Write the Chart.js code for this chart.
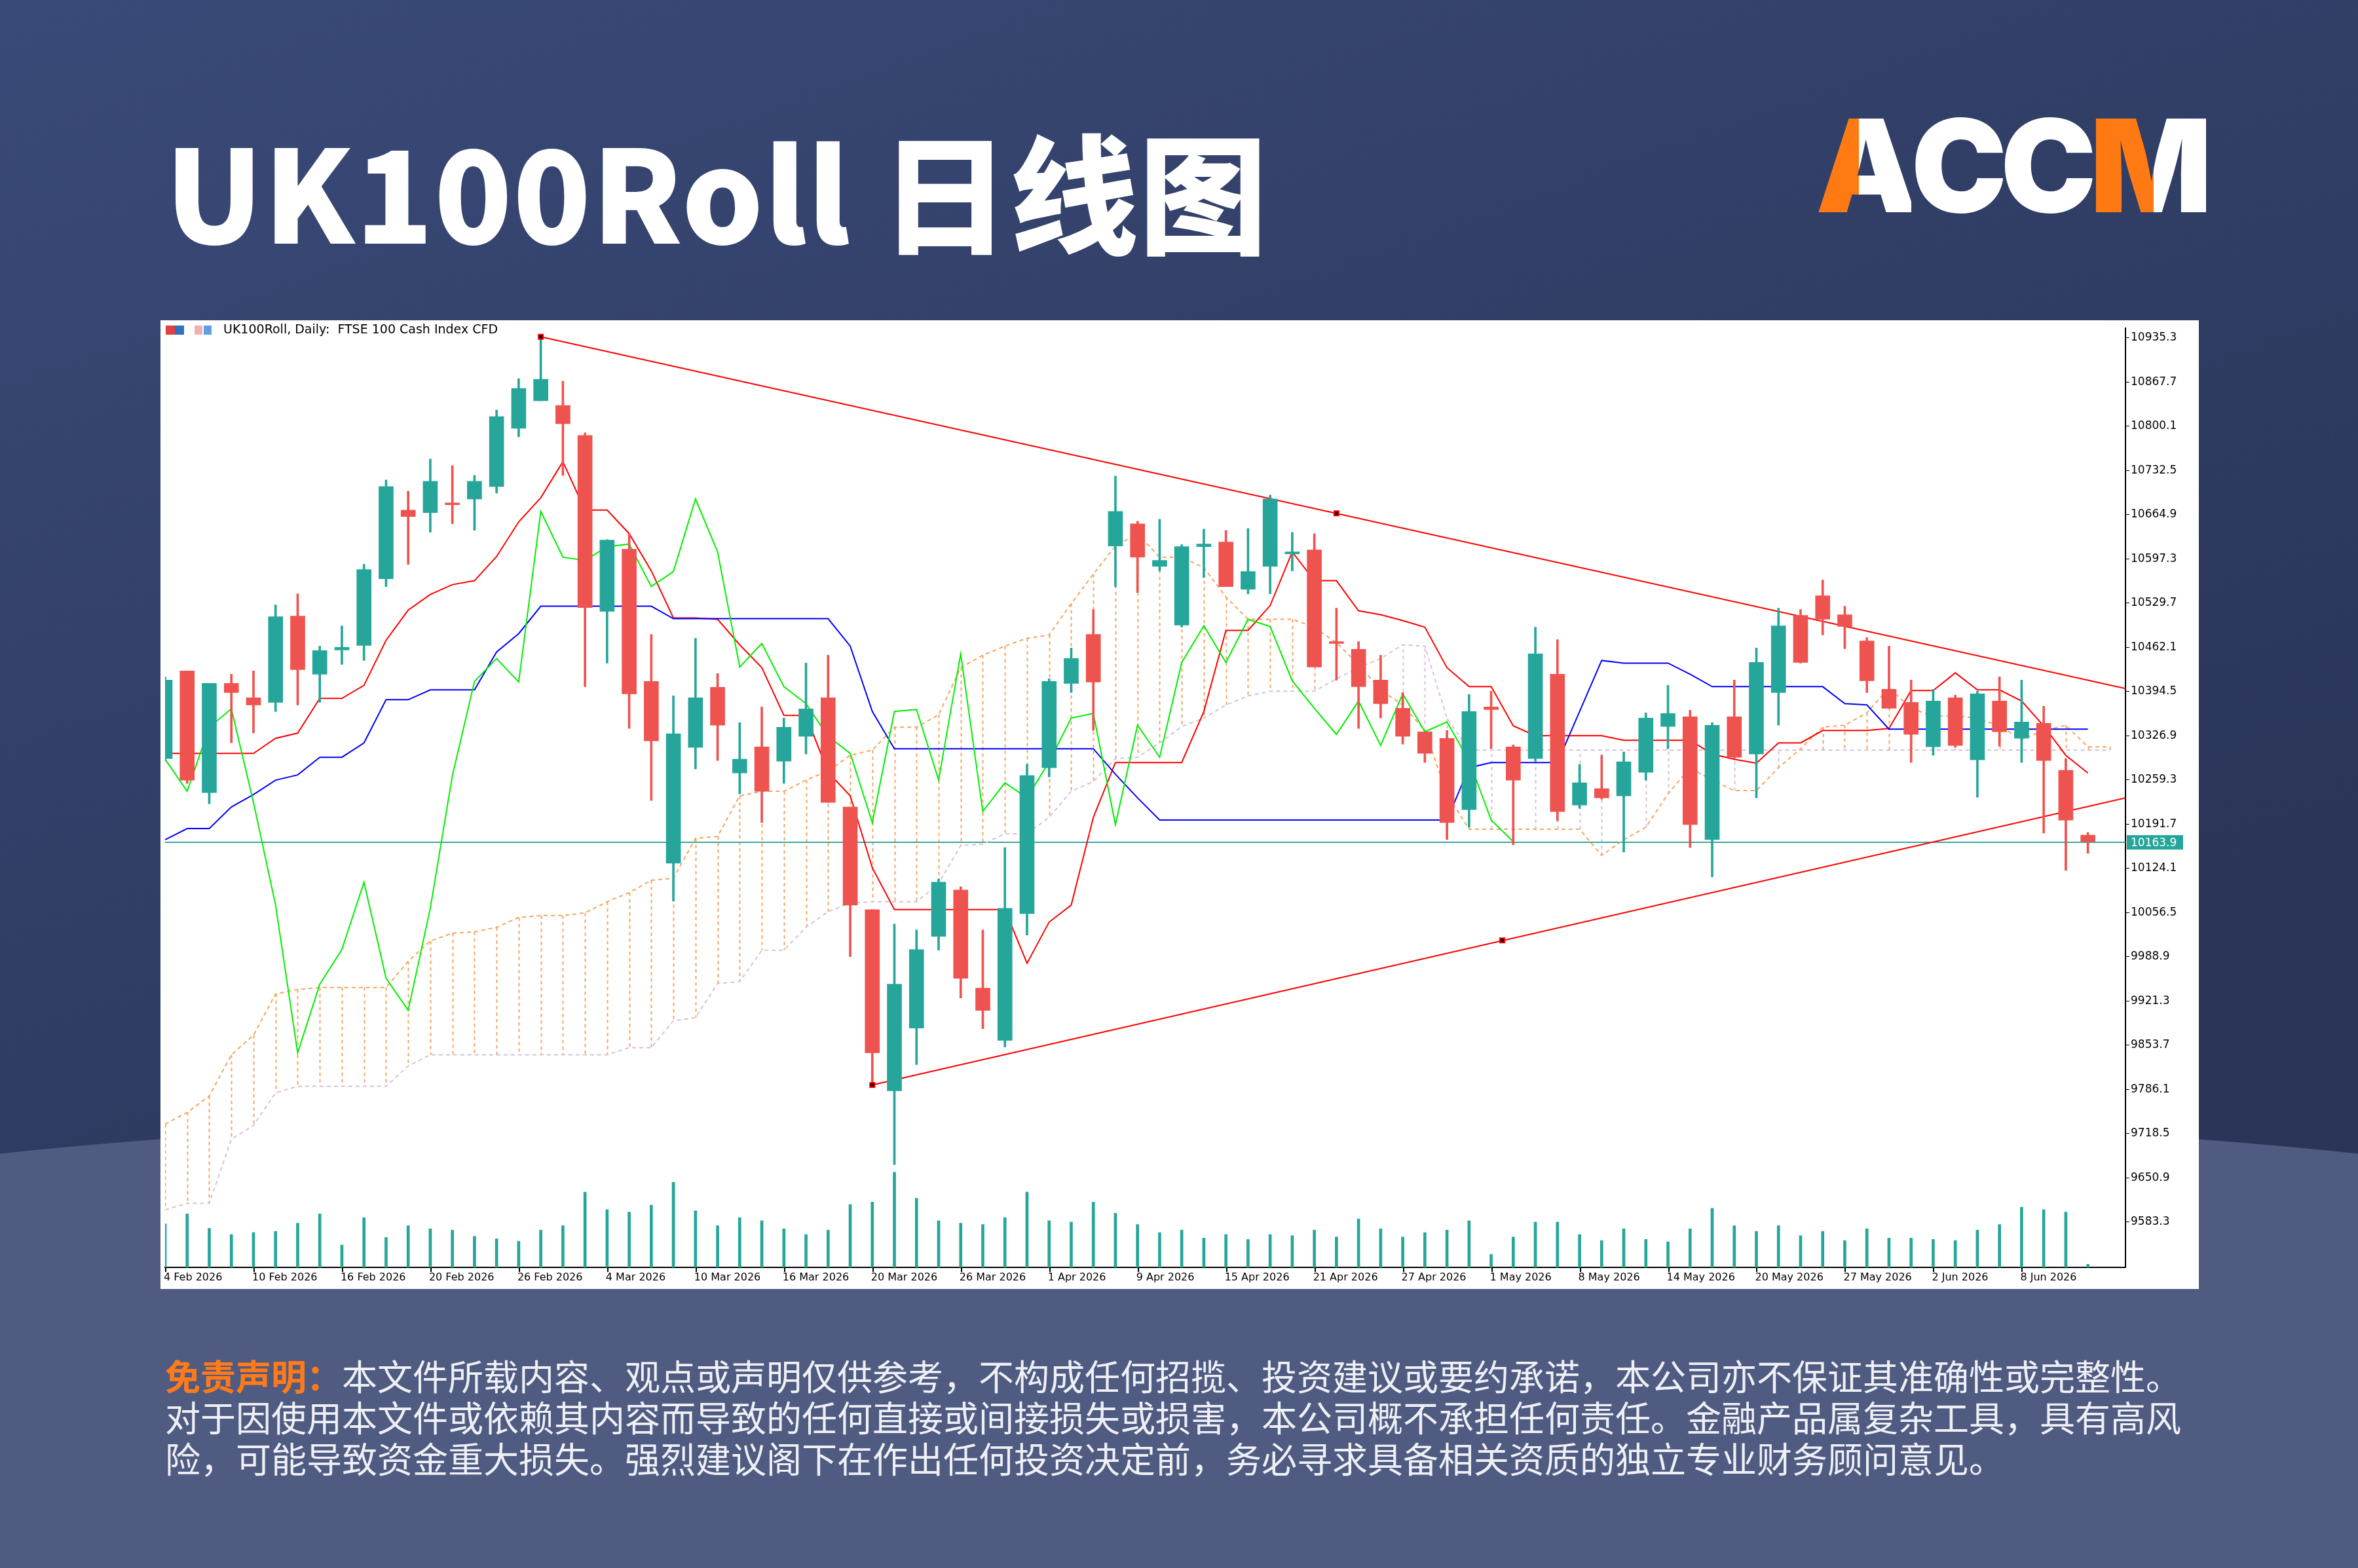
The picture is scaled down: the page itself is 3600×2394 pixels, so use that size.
<!DOCTYPE html>
<html><head><meta charset="utf-8">
<script src="https://cdn.jsdelivr.net/npm/chart.js@4.4.1/dist/chart.umd.min.js"></script>
<style>
html,body{margin:0;padding:0;}
body{width:3600px;height:2394px;position:relative;overflow:hidden;
background:linear-gradient(160deg,#3a4a78 0%,#2f3c63 45%,#2a3557 70%);}
#lower{position:absolute;left:-400px;top:1690px;width:4400px;height:1400px;border-radius:50% 50% 0 0/ 12% 12% 0 0;background:#4f5b80;}
#title{position:absolute;left:252px;top:172px;font-family:"Noto Sans CJK SC";font-weight:900;font-size:196px;line-height:230px;color:#fff;white-space:nowrap;letter-spacing:1px;}
#logo{position:absolute;left:2772px;top:138px;font-family:"Inter","Noto Sans";font-weight:900;font-size:196px;line-height:230px;letter-spacing:-10px;white-space:nowrap;}
#logo span{display:inline-block;color:#fff}
#logo .a{background:linear-gradient(90deg,#ff7a12 0 45%,#fff 45% 100%);-webkit-background-clip:text;background-clip:text;color:transparent}
#logo .m{background:linear-gradient(90deg,#ff7a12 0 55%,#fff 55% 100%);-webkit-background-clip:text;background-clip:text;color:transparent}
#panel{position:absolute;left:245px;top:489px;width:3112px;height:1479px;background:#fff;}
#disc{position:absolute;left:252px;top:2068px;font-family:"Noto Sans CJK SC";font-size:54px;line-height:63px;color:#eef0f6;white-space:nowrap;}
#disc b{color:#ff7a1a;font-weight:700}
</style></head><body>
<div id="lower"></div>
<div id="title">UK100Roll 日线图</div>
<div id="logo"><span class="a">A</span><span>CC</span><span class="m">M</span></div>
<div id="panel"><canvas id="c" width="3112" height="1479"></canvas></div>
<div id="disc"><b>免责声明：</b>本文件所载内容、观点或声明仅供参考，不构成任何招揽、投资建议或要约承诺，本公司亦不保证其准确性或完整性。<br>对于因使用本文件或依赖其内容而导致的任何直接或间接损失或损害，本公司概不承担任何责任。金融产品属复杂工具，具有高风<br>险，可能导致资金重大损失。强烈建议阁下在作出任何投资决定前，务必寻求具备相关资质的独立专业财务顾问意见。</div>
<script>
const dateLabels=["4 Feb 2026","10 Feb 2026","16 Feb 2026","20 Feb 2026","26 Feb 2026","4 Mar 2026","10 Mar 2026","16 Mar 2026","20 Mar 2026","26 Mar 2026","1 Apr 2026","9 Apr 2026","15 Apr 2026","21 Apr 2026","27 Apr 2026","1 May 2026","8 May 2026","14 May 2026","20 May 2026","27 May 2026","2 Jun 2026","8 Jun 2026"];
const yTicks=[10935.3,10867.7,10800.1,10732.5,10664.9,10597.3,10529.7,10462.1,10394.5,10326.9,10259.3,10191.7,10124.1,10056.5,9988.9,9921.3,9853.7,9786.1,9718.5,9650.9,9583.3];
const opens=[10292,10426,10240,10407,10385,10378,10510,10421,10458,10465,10567,10672,10668,10683,10689,10708,10797,10839,10832,10786,10517,10612,10410,10132,10309,10401,10270,10310,10288,10326,10385,10218,10061,9784,9880,10020,10091,9941,9861,10055,10278,10407,10482,10617,10651,10586,10496,10616,10623,10551,10586,10605,10611,10471,10459,10412,10369,10333,10323,10214,10371,10310,10292,10421,10221,10246,10235,10271,10341,10356,10168,10356,10299,10393,10511,10541,10512,10472,10398,10378,10310,10385,10290,10380,10323,10346,10274,10175];
const highs=[10417,10426,10407,10421,10426,10527,10544,10464,10495,10589,10718,10701,10750,10740,10725,10825,10873,10937,10869,10790,10627,10636,10482,10388,10476,10422,10347,10371,10354,10438,10450,10218,10061,10039,10030,10108,10096,10030,10156,10283,10414,10461,10520,10724,10655,10658,10619,10643,10641,10644,10695,10638,10636,10522,10471,10450,10393,10326,10335,10390,10395,10313,10493,10474,10283,10297,10302,10362,10404,10366,10347,10412,10461,10522,10520,10565,10525,10477,10464,10412,10398,10389,10395,10417,10412,10372,10292,10179];
const lows=[10288,10254,10223,10316,10331,10364,10374,10378,10436,10442,10555,10589,10638,10651,10641,10698,10784,10839,10725,10402,10438,10338,10228,10074,10276,10289,10238,10194,10254,10299,10225,9989,9793,9671,9824,9999,9926,9879,9851,10022,10264,10393,10335,10555,10546,10579,10493,10569,10555,10544,10544,10579,10432,10412,10338,10354,10314,10286,10168,10187,10307,10160,10288,10197,10216,10230,10149,10259,10307,10156,10111,10292,10232,10343,10438,10481,10460,10393,10369,10286,10297,10309,10233,10311,10286,10178,10121,10147];
const closes=[10412,10259,10407,10393,10374,10509,10428,10457,10462,10581,10708,10662,10716,10680,10716,10815,10858,10872,10804,10523,10626,10391,10319,10330,10385,10343,10291,10242,10340,10368,10225,10068,9842,9947,10000,10103,9956,9907,10063,10266,10410,10445,10409,10670,10600,10595,10616,10620,10555,10578,10689,10608,10432,10468,10402,10376,10326,10300,10194,10364,10367,10259,10452,10211,10255,10232,10287,10354,10361,10191,10343,10294,10439,10495,10439,10505,10494,10411,10369,10329,10380,10312,10391,10333,10348,10289,10198,10165];
const volumes=[700,860,630,530,560,580,710,860,360,800,480,670,620,600,500,460,420,600,670,1210,930,890,1000,1370,910,670,800,750,620,530,600,1010,1050,1530,1110,750,710,690,800,1210,750,730,1050,870,690,560,600,470,530,450,530,510,600,490,780,620,490,560,600,750,210,490,730,730,530,430,620,450,410,620,950,670,580,670,510,580,430,620,470,470,450,430,600,690,970,930,890,50];
const tenkan=[10300,10300,10300,10300,10300,10323,10331,10384,10384,10404,10473,10519,10543,10558,10564,10601,10654,10691,10746,10672,10672,10636,10579,10507,10507,10505,10466,10431,10358,10358,10271,10235,10125,10061,10061,10061,10061,10061,10061,9979,10042,10068,10202,10286,10286,10286,10286,10364,10488,10488,10526,10608,10564,10564,10518,10512,10503,10493,10431,10402,10402,10342,10327,10327,10327,10327,10320,10320,10320,10320,10299,10291,10285,10316,10316,10335,10335,10335,10338,10396,10396,10423,10397,10397,10380,10342,10297,10270];
const kijun=[10168,10185,10185,10218,10237,10259,10267,10294,10294,10316,10382,10382,10397,10397,10397,10455,10483,10525,10525,10525,10525,10525,10525,10506,10506,10506,10506,10506,10506,10506,10506,10464,10364,10307,10307,10307,10307,10307,10307,10307,10307,10307,10307,10268,10232,10198,10198,10198,10198,10198,10198,10198,10198,10198,10198,10198,10198,10198,10198,10278,10286,10286,10286,10286,10364,10442,10438,10438,10438,10421,10402,10402,10402,10402,10402,10402,10376,10374,10337,10337,10337,10337,10337,10337,10337,10337,10337,10337];
const senkouA=[9733,9751,9776,9839,9869,9932,9939,9942,9942,9942,9942,9982,10013,10025,10027,10034,10049,10052,10052,10056,10073,10087,10106,10109,10170,10173,10235,10242,10242,10259,10273,10297,10305,10340,10340,10359,10431,10450,10464,10476,10481,10529,10574,10617,10636,10600,10600,10584,10539,10505,10505,10505,10493,10469,10436,10397,10374,10335,10238,10184,10184,10184,10184,10184,10184,10144,10168,10187,10238,10278,10259,10243,10243,10278,10307,10340,10343,10362,10400,10369,10357,10357,10354,10342,10321,10335,10343,10310,10310];
const senkouB=[9602,9612,9612,9710,9731,9781,9791,9791,9791,9791,9791,9822,9839,9839,9839,9839,9839,9839,9839,9839,9839,9850,9850,9891,9896,9948,9951,9999,9999,10034,10058,10071,10073,10073,10073,10101,10159,10161,10177,10177,10202,10242,10257,10292,10294,10316,10341,10354,10374,10388,10395,10395,10395,10414,10431,10445,10466,10464,10354,10305,10305,10305,10305,10305,10305,10305,10305,10305,10305,10305,10305,10305,10305,10305,10305,10305,10305,10305,10305,10305,10305,10305,10305,10305,10305,10305,10305,10305,10305];
const trendUpper=[{x:17,y:10937},{x:88.7,y:10399}];
const trendLower=[{x:32,y:9793},{x:88.7,y:10232}];
const anchors=[{x:17,y:10937},{x:53,y:10667},{x:32,y:9793},{x:60.5,y:10014}];
const lastPrice=10163.9;
const SHIFT=26;

const UP='#26a69a', DN='#ef5350';
const idx=opens.map((_,i)=>i);
const col=idx.map(i=>closes[i]>=opens[i]?UP:DN);
const pts=a=>a.map((v,i)=>({x:i,y:v}));
const chikou=closes.slice(SHIFT).map((v,i)=>({x:i,y:v}));

const cloudPlugin={id:'cloud',beforeDatasetsDraw(ch){
  const c=ch.ctx,xs=ch.scales.x,ys=ch.scales.y,a=ch.chartArea;
  c.save();c.beginPath();c.rect(a.left,a.top,a.right-a.left,a.bottom-a.top);c.clip();
  c.lineWidth=2;c.setLineDash([5,5]);
  for(let i=0;i<senkouA.length;i++){
    const x=Math.round(xs.getPixelForValue(i))+0.5;
    c.strokeStyle=senkouA[i]>=senkouB[i]?'#f4a460':'#d8bfd8';
    c.beginPath();c.moveTo(x,ys.getPixelForValue(senkouA[i]));c.lineTo(x,ys.getPixelForValue(senkouB[i]));c.stroke();
  }
  c.restore();
}};
const decoPlugin={id:'deco',afterDraw(ch){
  const c=ch.ctx,xs=ch.scales.x,ys=ch.scales.y,a=ch.chartArea;
  c.save();
  c.fillStyle='#e04040';c.fillRect(8,8,14,14);c.fillStyle='#3070c0';c.fillRect(22,8,14,14);
  c.fillStyle='#f0b0b0';c.fillRect(52,8,12,14);c.fillStyle='#60a0e0';c.fillRect(66,8,12,14);
  c.fillStyle='#000';c.font='19px "DejaVu Sans"';c.textBaseline='top';c.textAlign='left';
  c.fillText('UK100Roll, Daily:  FTSE 100 Cash Index CFD',96,6);
  c.font='16px "DejaVu Sans"';c.textBaseline='top';
  dateLabels.forEach((t,k)=>{const x=xs.getPixelForValue(k*4);
    c.fillStyle='#000';c.fillRect(Math.round(x),a.bottom,2,7);c.fillText(t,x-2,a.bottom+8);});
  const y=ys.getPixelForValue(lastPrice);
  c.fillStyle=UP;c.fillRect(a.right+2,y-11,86,22);
  c.fillStyle='#fff';c.font='17px "DejaVu Sans"';c.textBaseline='middle';c.fillText(lastPrice.toFixed(1),a.right+8,y+1);
  c.restore();
}};

new Chart(document.getElementById('c'),{
  data:{datasets:[
    {type:'line',data:trendUpper,borderColor:'#ff0000',borderWidth:2,pointRadius:0,order:5},
    {type:'line',data:trendLower,borderColor:'#ff0000',borderWidth:2,pointRadius:0,order:5},
    {type:'line',data:[{x:0,y:lastPrice},{x:88.7,y:lastPrice}],borderColor:'#3aa89c',borderWidth:2,pointRadius:0,order:5},
    {type:'line',data:pts(senkouA),borderColor:'#f4a460',borderWidth:2,borderDash:[6,5],pointRadius:0,order:4},
    {type:'line',data:pts(senkouB),borderColor:'#d8bfd8',borderWidth:2,borderDash:[6,5],pointRadius:0,order:4},
    {type:'line',data:chikou,borderColor:'#00ee00',borderWidth:2,pointRadius:0,order:3},
    {type:'line',data:pts(kijun),borderColor:'#0000ff',borderWidth:2,pointRadius:0,order:3},
    {type:'line',data:pts(tenkan),borderColor:'#ff0000',borderWidth:2,pointRadius:0,order:3},
    {type:'bar',data:idx.map(i=>({x:i,y:[0,volumes[i]]})),yAxisID:'yv',backgroundColor:UP,barThickness:4,grouped:false,order:6},
    {type:'bar',data:idx.map(i=>({x:i,y:[lows[i],highs[i]]})),backgroundColor:col,barThickness:3,grouped:false,order:2},
    {type:'bar',data:idx.map(i=>({x:i,y:[opens[i],closes[i]===opens[i]?opens[i]+2:closes[i]]})),backgroundColor:col,barThickness:22,grouped:false,order:1},
    {type:'scatter',data:anchors,pointStyle:'rect',pointRadius:5,backgroundColor:'#000',borderColor:'#ff0000',borderWidth:2,order:0}
  ]},
  options:{responsive:false,devicePixelRatio:1,animation:false,
    layout:{padding:{left:0,right:0,top:0,bottom:0}},
    plugins:{legend:{display:false},tooltip:{enabled:false}},
    scales:{
      x:{type:'linear',min:0,max:88.7,offset:false,grid:{display:false},border:{color:'#000',width:2},
        ticks:{display:false},afterFit(s){s.height=33;}},
      y:{position:'right',min:9514,max:10950,border:{color:'#000',width:2},
        afterBuildTicks(s){s.ticks=yTicks.map(v=>({value:v}));},
        afterFit(s){s.width=112;},
        grid:{display:true,drawOnChartArea:false,tickLength:6,color:'#000'},
        ticks:{color:'#000',font:{family:'DejaVu Sans',size:17},padding:2,callback:v=>Number(v).toFixed(1)}},
      yv:{display:false,min:0,max:15110}
    }},
  plugins:[cloudPlugin,decoPlugin]
});
</script></body></html>
